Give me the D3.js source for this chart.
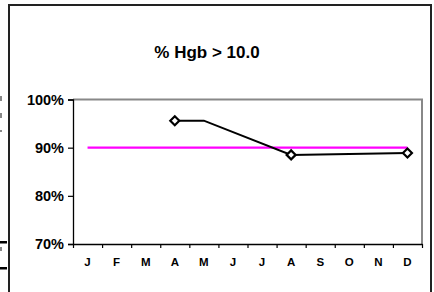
<!DOCTYPE html>
<html>
<head>
<meta charset="utf-8">
<script src="https://cdn.jsdelivr.net/npm/d3@7"></script>
<style>
  body { margin: 0; background: #fff; }
  svg { display: block; font-family: "Liberation Sans", Arial, sans-serif; }
</style>
</head>
<body>
<div id="chart"></div>
<script>
let months = ['J', 'F', 'M', 'A', 'M', 'J', 'J', 'A', 'S', 'O', 'N', 'D'];
// % Hgb > 10.0, null where no value
let hgbValues = [null, null, null, 95.6, 95.6, null, null, 88.5, 88.6, null, null, 88.9];
let markerMonths = [3, 7, 11];
let goal = 90;
let yTicks = [70, 80, 90, 100];

let width = 434, height = 292;
let plot = { left: 73, top: 99.5, right: 422, bottom: 244 };

let svg = d3.select('#chart').append('svg')
  .attr('width', width)
  .attr('height', height);

// outer frame
svg.append('path')
  .attr('d', `M9,${height} V5 H431 V${height}`)
  .attr('fill', 'none')
  .attr('stroke', '#222')
  .attr('stroke-width', 2);

// bits of the neighbouring chart cut off on the left
svg.append('rect').attr('x', 0).attr('y', 241).attr('width', 7).attr('height', 2.5).attr('fill', '#000');
svg.append('rect').attr('x', 0).attr('y', 267).attr('width', 7).attr('height', 2.5).attr('fill', '#000');
[[96, 5], [113, 5], [130, 2], [247, 4]].forEach(d => {
  svg.append('rect').attr('x', 0).attr('y', d[0]).attr('width', 2).attr('height', d[1]).attr('fill', '#888');
});

let xBand = d3.scaleBand()
  .domain(d3.range(months.length))
  .range([plot.left, plot.right]);

let xEdge = d3.scaleLinear()
  .domain([0, months.length])
  .range([plot.left, plot.right]);

let yScale = d3.scaleLinear()
  .domain([70, 100])
  .range([plot.bottom, plot.top]);

// plot frame: grey top + right
svg.append('path')
  .attr('d', `M${plot.left},${plot.top} H${plot.right} V${plot.bottom}`)
  .attr('fill', 'none')
  .attr('stroke', '#888')
  .attr('stroke-width', 2);

// y axis
let yAxis = d3.axisLeft(yScale)
  .tickValues(yTicks)
  .tickSize(5)
  .tickPadding(4)
  .tickFormat(d => d + '%');

let gy = svg.append('g')
  .attr('transform', `translate(${plot.left},0)`)
  .call(yAxis);
gy.select('.domain').attr('stroke', '#000').attr('stroke-width', 1.3);
gy.selectAll('.tick line').attr('stroke', '#000').attr('stroke-width', 1.2);
gy.selectAll('.tick text')
  .attr('font-size', 14.5)
  .attr('font-weight', 'bold')
  .attr('fill', '#000')
  .attr('font-family', '"Liberation Sans", Arial, sans-serif');

// x axis ticks on category edges
let xTickAxis = d3.axisBottom(xEdge)
  .tickValues(d3.range(months.length + 1))
  .tickSize(4)
  .tickSizeOuter(0)
  .tickFormat('');

let gx = svg.append('g')
  .attr('transform', `translate(0,${plot.bottom})`)
  .call(xTickAxis);
gx.select('.domain').attr('stroke', '#000').attr('stroke-width', 1.3);
gx.selectAll('.tick line').attr('stroke', '#000').attr('stroke-width', 1.2);

// month labels
let xLabelAxis = d3.axisBottom(xBand)
  .tickSize(0)
  .tickPadding(14)
  .tickFormat(i => months[i]);

let gl = svg.append('g')
  .attr('transform', `translate(0,${plot.bottom})`)
  .call(xLabelAxis);
gl.select('.domain').remove();
gl.selectAll('.tick text')
  .attr('font-size', 11.5)
  .attr('font-weight', 'bold')
  .attr('fill', '#000')
  .attr('font-family', '"Liberation Sans", Arial, sans-serif');

let cx = i => xBand(i) + xBand.bandwidth() / 2;

// goal line
svg.append('line')
  .attr('x1', cx(0))
  .attr('x2', cx(months.length - 1))
  .attr('y1', yScale(goal))
  .attr('y2', yScale(goal))
  .attr('stroke', '#ff00ff')
  .attr('stroke-width', 2.2);

// data line
let pts = hgbValues.map((v, i) => ({ i, v })).filter(d => d.v != null);

svg.append('path')
  .datum(pts)
  .attr('d', d3.line().x(d => cx(d.i)).y(d => yScale(d.v)))
  .attr('fill', 'none')
  .attr('stroke', '#000')
  .attr('stroke-width', 2);

// diamond markers
svg.selectAll('.marker')
  .data(markerMonths)
  .enter().append('path')
  .attr('class', 'marker')
  .attr('d', 'M0,-4.5 L4.5,0 L0,4.5 L-4.5,0 Z')
  .attr('transform', i => `translate(${cx(i)},${yScale(hgbValues[i])})`)
  .attr('fill', '#fff')
  .attr('stroke', '#000')
  .attr('stroke-width', 2.2);

// title
svg.append('text')
  .attr('x', 207)
  .attr('y', 58)
  .attr('text-anchor', 'middle')
  .attr('font-size', 17)
  .attr('font-weight', 'bold')
  .text('% Hgb > 10.0');
</script>
</body>
</html>
